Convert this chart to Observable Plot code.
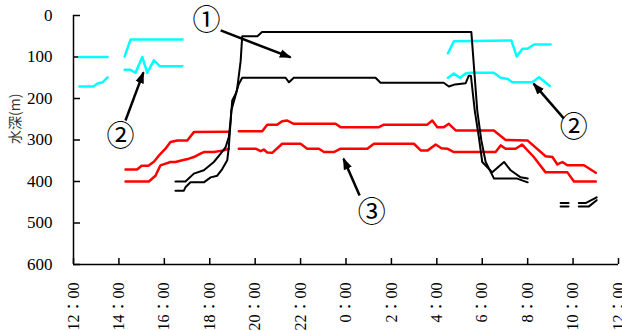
<!DOCTYPE html>
<html><head><meta charset="utf-8">
<script src="https://cdn.jsdelivr.net/npm/d3@7"></script>
<script src="https://cdn.jsdelivr.net/npm/@observablehq/plot@0.6"></script>
<style>body{margin:0;background:#fff}#chart{width:622px;height:331px;overflow:hidden}</style>
</head><body><div id="chart"></div>
<script>
// time in hours from 12:00 (day 1) : 12 .. 36 ; depth in m
const hourTicks = [12,14,16,18,20,22,24,26,28,30,32,34,36];
const depthTicks = [0,100,200,300,400,500,600];

// cyan series (segments)
const cyanU1 = [[12.25,100],[13.5,100]];
const cyanL1 = [[12.26,171],[12.88,171],[13.06,164],[13.28,161],[13.5,149]];
const cyanU2 = [[14.25,99],[14.51,58],[16.8,58]];
const cyanL2 = [[14.25,131],[14.51,131],[14.73,138],[15.03,100],[15.25,138],[15.54,108],[15.8,122],[16.79,122]];
const cyanU3 = [[28.49,91],[28.75,62],[31.28,60],[31.52,99],[31.77,80],[31.99,80],[32.28,70],[33.01,70]];
const cyanL3 = [[28.49,150],[28.75,140],[29.02,150],[29.27,140],[29.49,138],[30.51,138],[30.81,150],[31.13,153],[31.32,161],[32.2,161],[32.5,149],[32.98,170]];

// black series
const black1 = [[16.49,422],[16.86,422],[16.93,414],[17.15,402],[17.74,402],[18.04,390],[18.33,386],[18.55,370],[18.77,349],[18.84,317],[18.89,277],[18.95,229],[19.2,180],[19.36,110],[19.43,50],[20.1,50],[20.3,40],[29.52,40],[29.78,229],[29.96,301],[30.15,353],[30.52,393],[31.54,393],[32.0,402]];
const black2 = [[16.49,400],[16.93,400],[17.3,381],[17.74,373],[18.18,353],[18.48,333],[18.7,317],[18.84,293],[18.92,253],[18.99,205],[19.14,189],[19.28,165],[19.43,150],[21.34,150],[21.49,161],[21.7,150],[25.3,150],[25.52,162],[28.3,162],[28.53,171],[28.8,166],[29.27,163],[29.41,145],[29.5,145],[29.67,229],[29.85,293],[30.0,353],[30.44,378],[30.96,353],[31.25,373],[31.69,390],[32.0,393]];
const black1TailA = [[33.45,452],[33.8,452]];
const black1TailB = [[34.25,452],[34.55,452],[35.04,438]];
const black2TailA = [[33.45,460],[33.8,460]];
const black2TailB = [[34.25,460],[34.7,460],[35.04,445]];

// red series
const redU1 = [[14.29,371],[14.8,371],[15.0,362],[15.3,362],[15.55,352],[15.8,335],[16.05,321],[16.27,305],[16.57,301],[17.01,301],[17.3,281],[18.84,280]];
const redU2 = [[19.28,279],[20.31,279],[20.53,263],[20.97,263],[21.19,255],[21.41,253],[21.7,261],[23.54,261],[23.76,269],[25.45,269],[25.67,263],[27.58,263],[27.8,253],[28.02,269],[28.31,269],[28.53,261],[28.83,277],[30.51,277],[31.03,300],[31.99,301],[32.79,339],[33.09,341],[33.31,359],[33.53,353],[33.75,361],[34.48,361],[35.0,379]];
const redL1 = [[14.29,400],[15.32,400],[15.61,386],[15.83,361],[16.27,353],[16.49,353],[16.79,349],[17.08,345],[17.3,341],[17.59,333],[17.74,329],[18.18,329],[18.62,325],[18.84,321]];
const redL2 = [[19.28,321],[20.02,321],[20.24,327],[20.38,323],[20.53,330],[20.75,331],[21.19,309],[22.0,309],[22.29,321],[22.81,321],[23.03,329],[23.47,329],[23.76,321],[24.94,321],[25.23,309],[26.99,309],[27.29,325],[27.6,325],[27.95,311],[28.2,320],[28.46,321],[28.75,329],[30.59,329],[30.81,313],[31.03,321],[31.47,321],[31.76,311],[32.27,341],[32.79,378],[33.75,378],[34.04,400],[35.0,400]];

// annotations
const annotLabels = ["①","②","②","③"];
const annotX = [17.86,14.07,34.03,25.13];
const annotY = [14,294,272,477];
const arrowFrom = [[18.48,36],[14.29,253],[33.59,248],[24.6,434]];
const arrowTo = [[21.56,101],[15.08,137],[32.26,164],[23.89,345]];

const groups = [
  {color:"#00ffff", width:2.5, segs:{cyanU1,cyanL1,cyanU2,cyanL2,cyanU3,cyanL3}},
  {color:"#ff0000", width:2.5, segs:{redU1,redU2,redL1,redL2}},
  {color:"#000000", width:2, segs:{black1,black2,black1TailA,black1TailB,black2TailA,black2TailB}}
];
const lineMarks = groups.map(g => {
  const rows = Object.entries(g.segs).flatMap(([k,pts]) => pts.map(([t,d]) => ({t,d,seg:k})));
  return Plot.line(rows, {x:"t", y:"d", z:"seg", stroke:g.color, strokeWidth:g.width, curve:"linear"});
});

const annots = annotLabels.map((s,i) => ({s, x:annotX[i], y:annotY[i]}));
const arrows = arrowFrom.map((f,i) => ({x1:f[0], y1:f[1], x2:arrowTo[i][0], y2:arrowTo[i][1]}));

function filledArrow(color, context) {
  const doc = (context && context.document) || document;
  const ns = "http://www.w3.org/2000/svg";
  const m = doc.createElementNS(ns, "marker");
  m.setAttribute("viewBox", "0 -5 10 10");
  m.setAttribute("refX", "9");
  m.setAttribute("refY", "0");
  m.setAttribute("markerWidth", "4.8");
  m.setAttribute("markerHeight", "4.8");
  m.setAttribute("orient", "auto");
  const p = doc.createElementNS(ns, "path");
  p.setAttribute("d", "M0,-3.6L10,0L0,3.6Z");
  p.setAttribute("fill", color);
  p.setAttribute("stroke", "none");
  m.appendChild(p);
  return m;
}

const serif = "'Liberation Serif','Noto Sans CJK JP',serif";
const cjk = "'Noto Sans CJK JP',sans-serif";
const chart = Plot.plot({
  width:622, height:331,
  marginLeft:73, marginRight:4, marginTop:15, marginBottom:67,
  style:{background:"#fff", overflow:"visible", fontFamily:serif, fontSize:"16px", color:"#000"},
  x:{domain:[12,36]},
  y:{domain:[0,600], reverse:true},
  marks:[
    Plot.ruleX([12], {stroke:"#000", strokeWidth:1.5}),
    Plot.ruleY([600], {stroke:"#000", strokeWidth:1.5}),
    Plot.axisX({ticks:hourTicks, tickSize:-6, tickFormat:()=>"", label:null, strokeWidth:1.5}),
    Plot.axisX({ticks:hourTicks, tickSize:0, tickPadding:18, tickRotate:-90, tickFormat:h=>`${h%24}：00`, fontSize:16, fontFamily:serif, label:null, fill:"#000"}),
    Plot.axisY({ticks:depthTicks, tickSize:-7, tickFormat:()=>"", label:null, strokeWidth:1.5}),
    Plot.axisY({ticks:depthTicks, tickSize:0, tickPadding:21, fontSize:17, fontFamily:serif, label:null, fill:"#000"}),
    Plot.text(["水深(m)"], {frameAnchor:"left", rotate:-90, dx:-58, dy:4, fontSize:14, fontFamily:cjk, fill:"#333"}),
    ...lineMarks,
    Plot.link(arrows, {x1:"x1", y1:"y1", x2:"x2", y2:"y2", stroke:"#000", strokeWidth:2.5, markerEnd:filledArrow}),
    Plot.text(annots, {x:"x", y:"y", text:"s", fontSize:28, fontFamily:cjk, fill:"#000"})
  ]
});
document.getElementById("chart").appendChild(chart);
</script>
</body></html>
